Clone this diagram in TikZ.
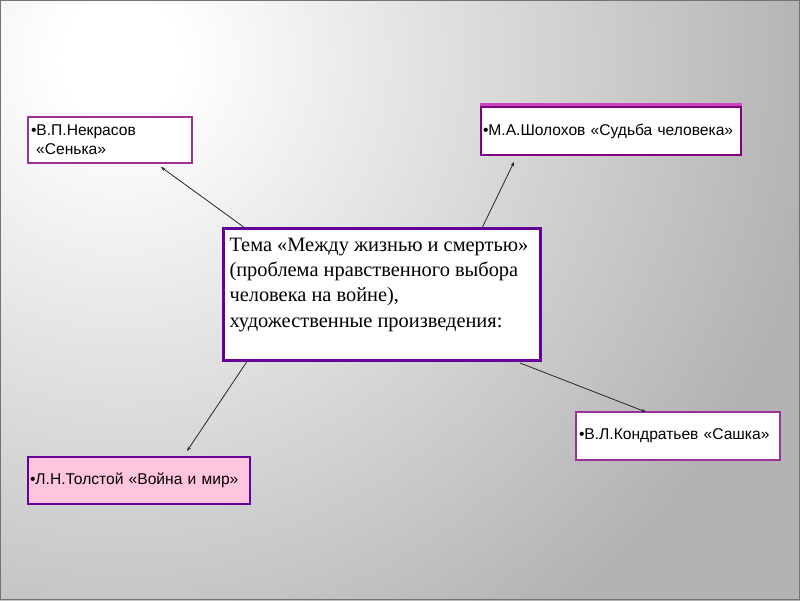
\documentclass[tikz,border=0pt]{standalone}
\usepackage{fontspec}
\setmainfont{Liberation Serif}
\newfontfamily\boxfont{Liberation Sans}
\usetikzlibrary{arrows.meta,calc}
\definecolor{violetd}{RGB}{102,0,153}
\definecolor{magp}{RGB}{153,51,153}
\definecolor{purp}{RGB}{128,0,128}
\definecolor{pinkf}{RGB}{255,196,222}
\definecolor{bandm}{RGB}{204,68,190}
\pgfdeclareradialshading{bgshade}{\pgfpointorigin}{color(0bp)=(white); color(3.3bp)=(white); color(38.9bp)=(black!30); color(50bp)=(black!30)}
\tikzset{
  smallbox/.style={draw, line width=2pt, fill=white, anchor=north west, inner xsep=3pt, inner ysep=0pt, outer sep=0pt, align=left, font=\boxfont\fontsize{15.6}{19}\selectfont},
  arr/.style={draw=black!85, line width=0.8pt, -{Stealth[length=4.5pt,width=3.5pt]}}
}
\begin{document}
\begin{tikzpicture}[x=1pt,y=-1pt]
\useasboundingbox (0,0) rectangle (800,600);
\begin{scope}
\clip (0,0) rectangle (800,600);
\node[inner sep=0pt, scale=18] at (120,60) {\pgfuseshading{bgshade}};
\end{scope}
\draw[black!55, line width=1.2pt] (0.6,0.6) rectangle (799.4,599.4);

\node[smallbox, draw=magp, minimum width=164pt, minimum height=46pt, text width=158pt] (nek) at (28,117) {•В.П.Некрасов\\ \ «Сенька»};

\node[smallbox, draw=purp, minimum width=260pt, minimum height=48pt, text width=256pt, inner xsep=1.5pt] (sho) at (481,107) {\raisebox{-1.5pt}{•М.А.Шолохов «Судьба человека»}};
\draw[bandm, line width=2.2pt] (sho.north west) ++(-1,-2.6) -- ++(262,0);

\node[draw=violetd, line width=3pt, fill=white, anchor=north west, inner sep=0pt, outer sep=0pt, minimum width=317pt, minimum height=132pt, font=\fontsize{20.4}{25.3}\selectfont] (c) at (223,228)
  {\parbox[c][124pt][t]{304pt}{\vspace*{6pt}\raggedright Тема «Между жизнью и смертью»\\(проблема нравственного выбора\\человека на войне),\\художественные произведения:}};

\node[smallbox, draw=violetd, fill=pinkf, line width=2.5pt, minimum width=222pt, minimum height=47pt, text width=218pt, inner xsep=1.5pt] (tol) at (28,457) {\raisebox{-1pt}{•Л.Н.Толстой «Война и мир»}};

\node[smallbox, draw=magp, minimum width=202pt, minimum height=48pt, text width=198pt] (kon) at (576,412) {•В.Л.Кондратьев «Сашка»};

\draw[arr] ([xshift=22pt]c.north west) -- ([xshift=133pt,yshift=-4pt]nek.south west);
\draw[arr] ([xshift=259pt]c.north west) -- ([xshift=33pt,yshift=-7pt]sho.south west);
\draw[arr] ([xshift=25pt]c.south west) -- ([xshift=159pt,yshift=6pt]tol.north west);
\draw[arr] ([xshift=297pt,yshift=-3pt]c.south west) -- ([xshift=70pt]kon.north west);
\end{tikzpicture}
\end{document}
